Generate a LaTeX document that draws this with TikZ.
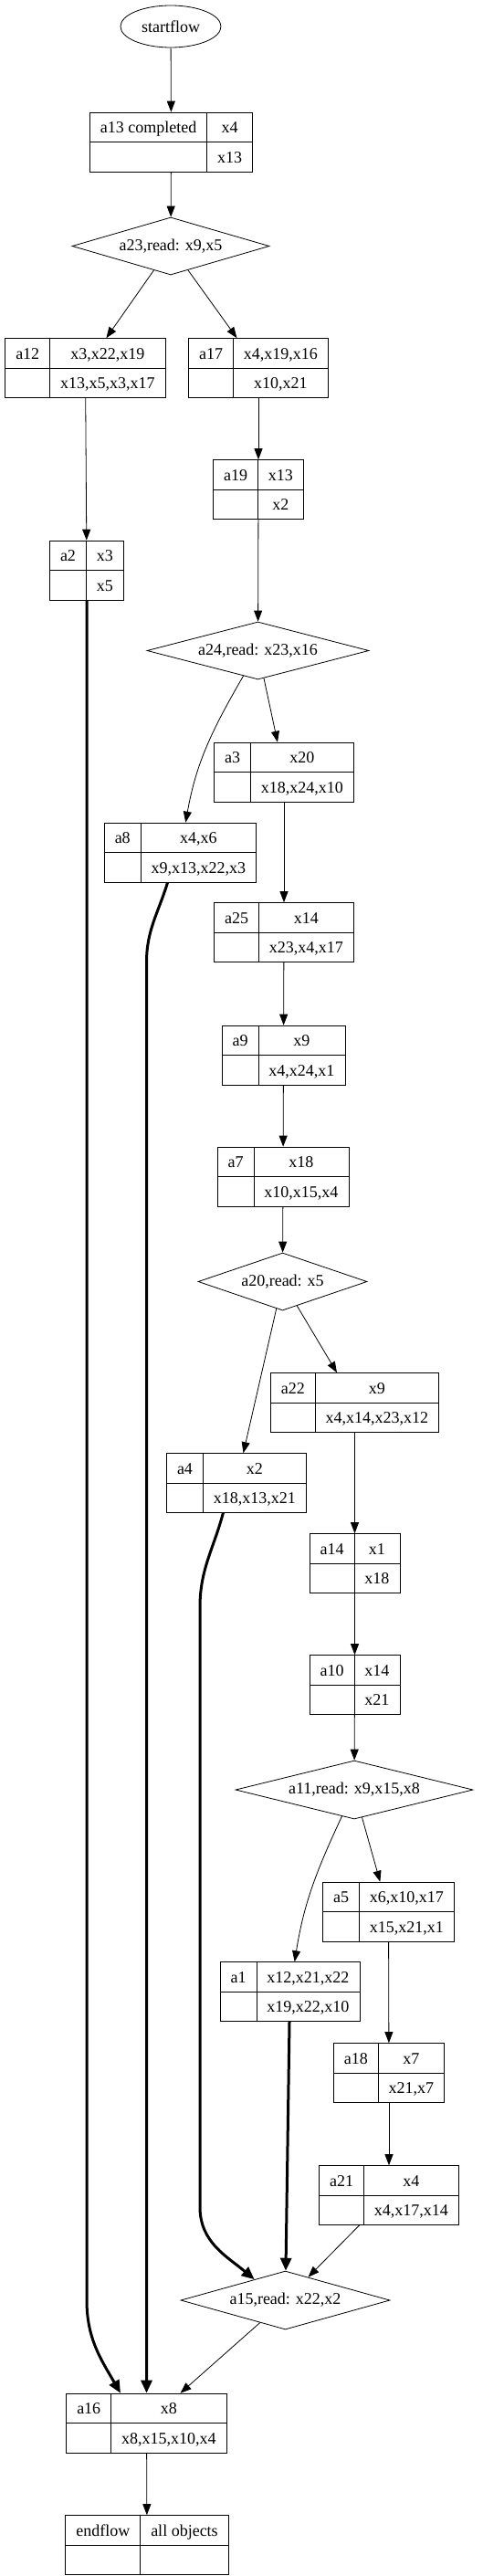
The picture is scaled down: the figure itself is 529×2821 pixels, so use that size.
\documentclass[tikz,border=0pt]{standalone}
\usepackage{fontspec}
\setmainfont{Liberation Serif}
\usetikzlibrary{shapes.geometric,arrows.meta}
\setlength{\tabcolsep}{11.5pt}
\setlength{\arrayrulewidth}{0.8pt}

\begin{document}
\begin{tikzpicture}[x=1pt, y=-1pt, font=\fontsize{18}{32}\selectfont, >={Triangle[length=12pt,width=9pt]}]

	% Stili dei nodi e degli archi
	\tikzset{
		rec/.style={
			draw,
			rectangle,
			inner sep=0pt,
			line width=0.8pt
		},
		decision/.style={
			draw,
			diamond,
			aspect=3.5,
			inner sep=0pt,
			line width=0.8pt
		},
		terminal/.style={
			draw,
			ellipse,
			inner sep=0pt,
			line width=0.8pt,
			minimum width=110pt,
			minimum height=46pt
		},
		link/.style={->, line width=0.8pt},
		heavylink/.style={-{Triangle[length=14pt,width=12pt]}, line width=3pt}
	}

	\useasboundingbox (0,0) rectangle (529,2821);

	% Inizio e primo ramo
	\node[terminal] (sf) at (187,29) {startflow};
	\node[rec] (a13) at (187.5,155.5) {\begin{tabular}{c|c} a13 completed & x4\\\hline & x13\end{tabular}};
	\node[decision, minimum width=216pt, minimum height=63pt] (a23) at (187,269.5) {a23,read: x9,x5};
	\node[rec] (a12) at (93.5,403) {\begin{tabular}{c|c} a12 & x3,x22,x19\\\hline & x13,x5,x3,x17\end{tabular}};
	\node[rec] (a17) at (283,403) {\begin{tabular}{c|c} a17 & x4,x19,x16\\\hline & x10,x21\end{tabular}};
	\node[rec] (a19) at (283,536) {\begin{tabular}{c|c} a19 & x13\\\hline & x2\end{tabular}};
	\node[rec] (a2) at (95,624.5) {\begin{tabular}{c|c} a2 & x3\\\hline & x5\end{tabular}};

	% Secondo ramo
	\node[decision, minimum width=243pt, minimum height=63pt] (a24) at (282.5,712.5) {a24,read: x23,x16};
	\node[rec] (a3) at (311,845.5) {\begin{tabular}{c|c} a3 & x20\\\hline & x18,x24,x10\end{tabular}};
	\node[rec] (a8) at (197.5,933.5) {\begin{tabular}{c|c} a8 & x4,x6\\\hline & x9,x13,x22,x3\end{tabular}};
	\node[rec] (a25) at (311,1021) {\begin{tabular}{c|c} a25 & x14\\\hline & x23,x4,x17\end{tabular}};
	\node[rec] (a9) at (310.5,1155.5) {\begin{tabular}{c|c} a9 & x9\\\hline & x4,x24,x1\end{tabular}};
	\node[rec] (a7) at (310,1288.5) {\begin{tabular}{c|c} a7 & x18\\\hline & x10,x15,x4\end{tabular}};

	% Terzo ramo
	\node[decision, minimum width=185pt, minimum height=63pt] (a20) at (309.5,1403.5) {a20,read: x5};
	\node[rec] (a22) at (388.5,1536) {\begin{tabular}{c|c} a22 & x9\\\hline & x4,x14,x23,x12\end{tabular}};
	\node[rec] (a4) at (259,1624) {\begin{tabular}{c|c} a4 & x2\\\hline & x18,x13,x21\end{tabular}};
	\node[rec] (a14) at (388.5,1712) {\begin{tabular}{c|c} a14 & x1\\\hline & x18\end{tabular}};
	\node[rec] (a10) at (388.5,1845) {\begin{tabular}{c|c} a10 & x14\\\hline & x21\end{tabular}};

	% Quarto ramo
	\node[decision, minimum width=260pt, minimum height=64pt] (a11) at (388,1960) {a11,read: x9,x15,x8};
	\node[rec] (a5) at (425.5,2093.5) {\begin{tabular}{c|c} a5 & x6,x10,x17\\\hline & x15,x21,x1\end{tabular}};
	\node[rec] (a1) at (317.5,2181) {\begin{tabular}{c|c} a1 & x12,x21,x22\\\hline & x19,x22,x10\end{tabular}};
	\node[rec] (a18) at (426,2270) {\begin{tabular}{c|c} a18 & x7\\\hline & x21,x7\end{tabular}};
	\node[rec] (a21) at (426,2404) {\begin{tabular}{c|c} a21 & x4\\\hline & x4,x17,x14\end{tabular}};

	% Chiusura
	\node[decision, minimum width=229pt, minimum height=64pt] (a15) at (312.5,2519) {a15,read: x22,x2};
	\node[rec] (a16) at (160.5,2653.5) {\begin{tabular}{c|c} a16 & x8\\\hline & x8,x15,x10,x4\end{tabular}};
	\node[rec] (ef) at (161,2787) {\begin{tabular}{c|c} endflow & all objects\\\hline & \end{tabular}};

	% Punti di piega
	\coordinate (k4a) at (219,1760);
	\coordinate (k4b) at (219,2417);

	% Archi sottili
	\draw[link] (sf) -- (a13);
	\draw[link] (a13) -- (a23);
	\draw[link] (a23) -- (a12);
	\draw[link] (a23) -- (a17);
	\draw[link] (a12) -- (a2);
	\draw[link] (a17) -- (a19);
	\draw[link] (a19) -- (a24);
	\draw[link] (a24) to[out=240,in=80] (a8);
	\draw[link] (a24) -- (a3);
	\draw[link] (a3) -- (a25);
	\draw[link] (a25) -- (a9);
	\draw[link] (a9) -- (a7);
	\draw[link] (a7) -- (a20);
	\draw[link] (a20) -- (a22);
	\draw[link] (a20) -- (a4);
	\draw[link] (a22) -- (a14);
	\draw[link] (a14) -- (a10);
	\draw[link] (a10) -- (a11);
	\draw[link] (a11) -- (a5);
	\draw[link] (a11) to[out=245,in=81] (a1);
	\draw[link] (a5) -- (a18);
	\draw[link] (a18) -- (a21);
	\draw[link] (a21) -- (a15);
	\draw[link] (a15) -- (a16);
	\draw[link] (a16) -- (ef);

	% Archi spessi
	\draw[heavylink] (a2) -- (a2 |- a15) to[out=270,in=120] (a16.131);
	\draw[heavylink] (a8.247) to[out=253,in=90] (a16 |- a25.south) -- (a16);
	\draw[heavylink] (a4.246) to[out=255,in=90] (k4a) -- (k4b) to[out=270,in=140] (a15.146);
	\draw[heavylink] (a1) -- (a15);

\end{tikzpicture}
\end{document}
